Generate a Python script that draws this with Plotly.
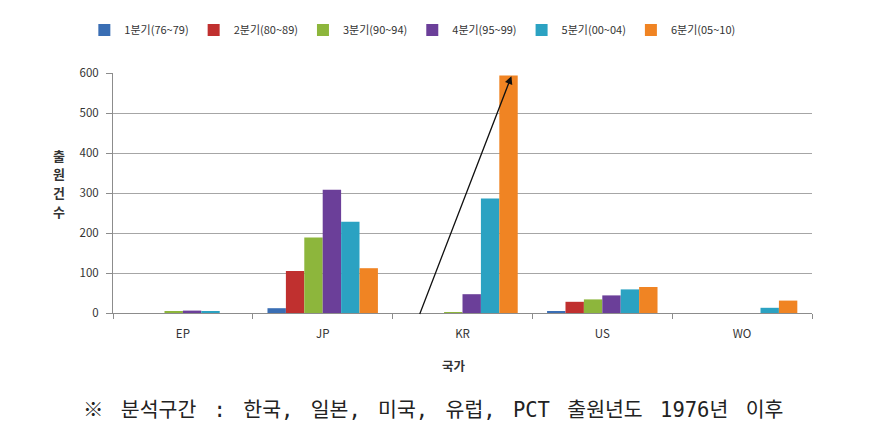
import plotly.graph_objects as go

countries = ["EP", "JP", "KR", "US", "WO"]
series_names = ["1분기(76~79)", "2분기(80~89)", "3분기(90~94)", "4분기(95~99)", "5분기(00~04)", "6분기(05~10)"]
q1 = [0, 12, 0, 5, 0]
q2 = [0, 105, 0, 28, 0]
q3 = [3, 189, 2, 34, 0]
q4 = [6, 308, 47, 44, 0]
q5 = [3, 228, 286, 59, 13]
q6 = [0, 112, 594, 65, 31]
series_values = [q1, q2, q3, q4, q5, q6]
y_ticks = [0, 100, 200, 300, 400, 500, 600]
y_title_chars = ["출", "원", "건", "수"]

colors = ["#3A6EB4", "#C0302F", "#8DB63C", "#6B3F99", "#2BA2C2", "#F08423"]

FONT = "Noto Sans CJK KR, Malgun Gothic, sans-serif"

fig = go.Figure()
for name, vals, c in zip(series_names, series_values, colors):
    fig.add_trace(go.Bar(name=name, x=countries, y=vals, marker=dict(color=c, line=dict(width=0))))

annotations = []
# vertical stacked y-axis title, one glyph per line
for i, ch in enumerate(y_title_chars):
    annotations.append(dict(text="<b>%s</b>" % ch, xref="paper", yref="paper",
                            x=-0.077, y=0.658 - i * 0.078, showarrow=False,
                            font=dict(size=13, color="#333333"), xanchor="center", yanchor="middle"))
annotations += [
    dict(text="<b>국가</b>", xref="paper", yref="paper", x=0.488, y=-0.22,
         showarrow=False, font=dict(size=12.5, color="#333333"), xanchor="center", yanchor="middle"),
    dict(text='<span style="word-spacing:5px">※ 분석구간 : 한국, 일본, 미국, 유럽, PCT 출원년도 1976년 이후</span>',
         xref="paper", yref="paper", x=0.458, y=-0.405, showarrow=False,
         font=dict(family="DejaVu Sans Mono, Noto Sans CJK KR, sans-serif", size=20.5, color="#222222"),
         xanchor="center", yanchor="middle"),
    dict(x=2.35, y=592, xref="x", yref="y", ax=1.69, ay=-6, axref="x", ayref="y",
         showarrow=True, arrowhead=2, arrowsize=1.2, arrowwidth=1.3, arrowcolor="#111111", text=""),
]

fig.update_layout(
    width=871, height=417,
    margin=dict(l=105, r=67, t=65, b=112, autoexpand=False),
    paper_bgcolor="white", plot_bgcolor="white",
    barmode="group", bargap=0.21, bargroupgap=0,
    font=dict(family=FONT, size=11, color="#333333"),
    showlegend=True,
    legend=dict(orientation="h", x=-0.041, xanchor="left", y=1.179, yanchor="middle",
                font=dict(size=11, color="#333333"), itemwidth=30, tracegroupgap=0),
    xaxis=dict(showline=True, linecolor="#8C8C8C", linewidth=1, ticks="outside",
               tickson="boundaries", ticklen=5, tickcolor="#8C8C8C", ticklabelstandoff=10,
               tickfont=dict(size=11.5, color="#333333"), showgrid=False),
    yaxis=dict(range=[0, 600], tickvals=y_ticks, showline=True, linecolor="#8C8C8C", linewidth=1,
               ticks="outside", ticklen=6, tickcolor="#8C8C8C", showgrid=True, ticklabelstandoff=5,
               gridcolor="#A6A6A6", gridwidth=1, zeroline=False,
               tickfont=dict(size=11.5, color="#333333")),
    annotations=annotations,
)

fig.write_html("out.html")
